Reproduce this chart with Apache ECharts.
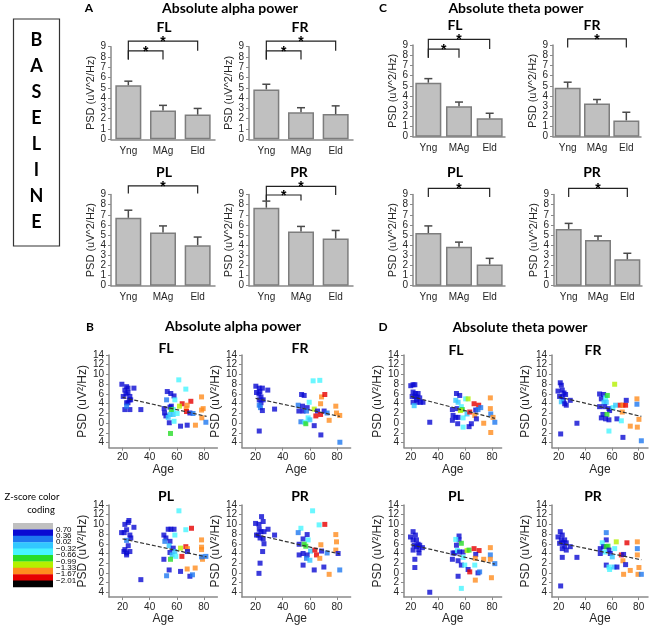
<!DOCTYPE html>
<html><head><meta charset="utf-8">
<script src="https://cdn.jsdelivr.net/npm/echarts@6/dist/echarts.min.js"></script>
<style>html,body{margin:0;padding:0;background:#fff}#c{width:654px;height:626px}</style>
</head><body><div id="c"></div>
<script>
// ---------- DATA ----------
const groups = ['Yng', 'MAg', 'Eld'];
const barTicksMax = 9;
const psdTicks = [-4, -2, 0, 2, 4, 6, 8, 10, 12, 14];
const ageTicks = [20, 40, 60, 80];

// A: absolute alpha power (mean, SE), significant pairs
const alphaFL_mean = [5.25, 2.8, 2.4],  alphaFL_se = [0.4, 0.5, 0.6],   alphaFL_sig = [[0, 1], [0, 2]];
const alphaFR_mean = [4.85, 2.62, 2.45], alphaFR_se = [0.5, 0.45, 0.8], alphaFR_sig = [[0, 1], [0, 2]];
const alphaPL_mean = [6.7, 5.25, 4.0],  alphaPL_se = [0.75, 0.65, 0.8], alphaPL_sig = [[0, 2]];
const alphaPR_mean = [7.7, 5.35, 4.65], alphaPR_se = [0.65, 0.5, 0.8],  alphaPR_sig = [[0, 1], [0, 2]];
// C: absolute theta power
const thetaFL_mean = [5.3, 3.0, 1.8],   thetaFL_se = [0.4, 0.4, 0.5],   thetaFL_sig = [[0, 1], [0, 2]];
const thetaFR_mean = [4.8, 3.25, 1.6],  thetaFR_se = [0.55, 0.4, 0.8],  thetaFR_sig = [[0, 2]];
const thetaPL_mean = [5.2, 3.85, 2.1],  thetaPL_se = [0.7, 0.45, 0.6],  thetaPL_sig = [[0, 2]];
const thetaPR_mean = [5.6, 4.5, 2.6],   thetaPR_se = [0.55, 0.4, 0.6],  thetaPR_sig = [[0, 2]];

// B / D scatter: [age, PSD, z-score colour class]
const alphaFL_pts = [[19.5,8.0,1],[23,7.5,1],[24,7.2,1],[21.7,6.8,1],[24,6.3,1],[22.5,6.0,1],[25.4,5.5,1],[26,4.8,1],[23,4.2,1],[24,4.2,1],[21.7,2.8,1],[25.4,2.8,1],[28.4,7.2,1],[33.5,2.8,1],[20.5,5.5,1],[25,4.8,1],[23,3.5,2],
[53,6.5,1],[55.6,6.1,1],[58,5.6,1],[52.5,4.8,2],[58.6,4.8,4],[50.7,3.0,1],[51,2.1,1],[52,1.5,1],[55,3.3,1],[56,3.5,1],[57.4,2.8,4],[56,2.8,5],[55,1.8,3],[57.4,1.8,3],[53.7,1.2,3],[54.5,0.1,1],[58,0.4,4],[55.4,-2.1,5],[61.5,8.9,4],[66.7,7.0,4],[60.3,2.0,4],[64,4.0,8],[62,3.5,6],[67,3.0,7],[70.4,4.5,8],[67.7,3.7,7],[67.2,2.4,8],[69.7,2.1,1],[72,2.0,2],[62.8,-0.6,1],[67.7,-0.4,1],[73.8,-0.4,7],[78.3,5.4,7],[79.5,3.0,7],[78.3,2.7,7],[78.5,1.1,7],[81.5,0.2,2]];
const alphaFR_pts = [[20.2,7.6,1],[22.7,7.2,1],[23.2,6.5,1],[25,7.2,1],[22.5,6.0,1],[24,5.4,1],[22.7,4.8,1],[25.6,4.8,1],[24,4.2,1],[22.7,3.7,2],[23.6,3.2,2],[25,2.6,1],[29,6.8,1],[34,2.9,1],[22.7,-1.6,1],[20.7,6.3,1],
[62.4,8.7,4],[67.3,8.8,4],[53.9,5.9,1],[55.8,5.7,1],[68.6,5.4,7],[71,5.9,8],[59.5,4.3,4],[67.9,4.0,7],[51.4,3.7,2],[54.6,3.5,1],[58,3.2,1],[63.2,2.9,6],[51.9,2.5,1],[55,2.5,1],[57.5,2.5,2],[65.6,2.5,1],[70.5,2.5,1],[72.7,2.1,2],[64.4,1.5,8],[67.9,1.8,8],[79.1,3.5,7],[79.6,2.1,7],[74.2,0.6,7],[82,1.6,7],[53.4,0.3,2],[56.3,0.2,4],[58.7,1.1,4],[57,-0.1,5],[63.2,-0.5,1],[68.1,-2.4,1],[82.1,-3.9,2],[60,0.7,3]];
const alphaPL_pts = [[19.3,8.3,1],[21.2,8.3,1],[21.7,10.0,1],[24.2,10.4,1],[24.7,10.8,1],[23,8.9,1],[25.4,7.8,1],[26.1,7.2,1],[28.4,9.4,1],[23,6.7,2],[24.2,5.6,1],[21.7,4.8,1],[21,4.4,1],[23,4.1,1],[23,3.7,1],[25.4,4.4,1],[33.5,-1.4,1],
[50.5,7.8,1],[52,7.2,1],[51.2,6.5,2],[53.7,9.0,1],[55.7,9.0,1],[58,9.0,1],[58.6,7.8,4],[55,6.5,1],[54.4,5.6,3],[55,4.2,1],[57.4,5.1,1],[58.6,4.4,3],[56.6,3.7,3],[59.3,3.4,4],[55.4,2.8,5],[50.5,2.8,1],[54.4,0.6,1],[52.5,-0.6,2],[62.8,0.3,1],[61.6,12.8,4],[66.7,8.9,4],[70.9,9.2,8],[62.8,5.1,6],[66.7,5.4,8],[67.9,5.0,7],[67.9,4.4,1],[63.8,3.4,8],[67.7,0.8,7],[69.7,-0.7,1],[71.6,-0.4,2],[73.6,1.0,7],[78.3,6.8,7],[78.3,5.3,7],[78.3,4.8,7],[79,2.8,7],[78.3,3.3,2],[81.5,3.4,2]];
const alphaPR_pts = [[20,10.2,1],[22.5,10.0,1],[24.4,11.6,1],[25.6,10.6,1],[22.7,9.0,1],[24,8.5,1],[26.2,8.5,1],[29.2,9.0,1],[22,7.8,1],[23.3,7.2,1],[25.6,7.0,1],[26.2,6.0,1],[25.2,4.4,1],[23.3,2.0,1],[22.5,-0.1,1],[34,7.8,1],[20.7,7.8,1],
[62,12.8,4],[66.8,9.9,4],[71,10.0,8],[53.4,9.2,4],[51.4,8.3,2],[58,7.9,1],[55,7.0,1],[58.7,6.8,4],[52.1,5.9,1],[55.8,5.9,5],[57,5.5,5],[68.1,5.8,7],[79.1,7.9,7],[79.6,6.4,7],[60.5,4.5,3],[63.7,4.7,8],[68.6,4.5,1],[72.7,4.1,2],[79.1,4.7,7],[80.8,4.0,1],[55,4.0,1],[52.1,3.7,1],[58,3.7,1],[57.5,3.0,2],[64.9,3.7,8],[67.3,3.0,7],[55,1.6,1],[63.2,0.6,1],[70.3,1.2,1],[74.2,-0.3,7],[82,0.6,2],[60,2.6,3]];
const thetaFL_pts = [[20,7.7,1],[21.7,7.9,1],[23,7.9,1],[21.7,6.4,1],[23.4,6.1,1],[25.4,6.1,1],[21,5.5,1],[23,5.5,1],[24.7,5.4,1],[26.6,5.2,1],[21.7,4.3,1],[24.7,4.3,1],[27.1,4.3,1],[29,4.3,1],[22.5,3.6,3],[34,0.2,1],[24.2,4.8,1],
[53.7,6.1,1],[56.1,5.7,1],[53.2,4.7,3],[54.9,4.3,3],[50.7,2.8,1],[54.2,3.0,1],[51.2,1.6,1],[53.2,1.2,1],[54.9,1.2,1],[50.7,0.6,1],[54.6,-0.1,1],[57.3,3.4,4],[58,2.8,5],[56.6,2.6,6],[58.6,1.1,4],[58.6,-0.8,4],[60.5,5.0,4],[62.3,5.0,6],[61.5,1.9,3],[63,-0.7,1],[63.5,2.3,8],[66.7,4.0,8],[70.1,3.7,8],[67.9,2.7,1],[69.6,2.8,2],[71.6,3.2,2],[67.2,1.6,7],[68.4,0.9,1],[64.7,-0.1,1],[73.8,0.0,7],[78.7,5.2,7],[78.7,3.0,7],[79,1.9,2],[79,-1.9,7],[80.7,1.2,7],[82,0.2,2]];
const thetaFR_pts = [[19.5,6.6,1],[21.2,8.3,1],[22,7.8,1],[22.7,6.8,1],[24,6.2,1],[25.2,5.9,1],[20.7,5.5,1],[22.7,5.4,1],[23.7,4.7,1],[22,4.4,3],[24.5,4.0,1],[25.7,3.7,1],[28.7,4.7,1],[21.5,-2.2,1],[33.7,0.0,1],
[50.7,6.0,1],[52,5.0,1],[53.7,5.9,1],[55.2,5.2,4],[56.5,5.7,5],[54,4.3,3],[55.7,4.3,3],[50.7,3.4,1],[54.5,3.4,1],[57.7,3.0,1],[58.2,2.6,1],[53.2,1.8,1],[56.2,1.8,5],[52,1.1,1],[55.2,0.9,1],[57.7,0.7,1],[57.7,-1.6,4],[60.7,3.2,4],[62.7,3.7,3],[62,8.0,6],[63.7,0.9,1],[66.2,3.7,8],[68.2,3.7,7],[67.7,2.3,7],[67,0.5,4],[70.2,3.7,8],[70.7,4.7,1],[68.2,-2.9,1],[73.7,-0.6,7],[78.7,5.0,7],[78.7,3.9,2],[79,-0.8,7],[80.2,0.8,7],[82,-3.6,2]];
const thetaPL_pts = [[19.8,7.4,1],[21.7,8.5,1],[23.4,7.8,1],[21.7,6.8,1],[24.2,6.8,1],[22.5,5.7,1],[25.4,5.9,1],[26.6,5.7,1],[24.2,5.4,1],[21.7,4.7,1],[25.9,4.8,1],[26.1,4.1,1],[28.6,5.2,1],[23,2.8,1],[23,1.1,1],[34,-4.0,1],
[55.6,7.6,1],[55.6,6.8,1],[53.2,6.9,4],[53.7,5.7,1],[57.3,6.1,5],[51.2,4.1,1],[52.4,4.1,1],[54.4,4.6,4],[56,4.3,1],[58.6,4.3,1],[61.5,4.6,6],[63,4.7,5],[58.6,3.2,4],[50.7,2.8,1],[54.9,2.5,1],[57.3,1.6,1],[59.8,1.6,4],[54.9,-0.7,1],[57.3,-3.2,4],[62.3,0.7,1],[63.5,0.2,8],[66.7,5.0,8],[70.4,4.6,8],[67.9,3.8,1],[67.6,3.0,7],[67.2,1.6,4],[69.6,0.0,1],[70.8,0.2,2],[67.6,-1.5,7],[73.8,2.8,7],[78.7,5.2,7],[78.7,3.7,2],[78.7,2.8,7],[79.5,-1.0,7],[82,1.9,2]];
const thetaPR_pts = [[19.5,7.4,1],[21.2,8.5,1],[22.7,7.8,1],[22,6.8,1],[24.5,6.8,1],[20.7,6.1,1],[23.2,6.2,1],[25.7,6.2,1],[24.5,5.5,1],[22.7,5.0,1],[25.7,4.7,1],[28.7,5.4,1],[22.7,3.2,1],[21.5,-2.7,1],[33.7,3.2,1],
[55.7,8.3,2],[55.7,6.8,1],[52.7,6.2,4],[51.2,5.0,1],[53.7,5.4,1],[55.7,5.4,5],[57,5.5,5],[57.7,4.7,1],[54.5,4.3,4],[51.2,4.0,1],[58.7,4.0,1],[60.2,3.3,3],[63.2,6.4,6],[62,5.0,4],[55.7,1.6,1],[57.7,1.2,4],[58.2,0.7,4],[61.5,1.2,3],[63.7,1.2,1],[71.2,6.2,8],[67,3.7,8],[68.7,3.8,1],[68.2,2.5,7],[70.2,1.7,1],[68.7,-0.3,7],[73.7,0.5,7],[79,6.4,7],[79,3.7,7],[79,5.0,2],[80.2,1.1,7],[79.5,-0.3,7],[82,-0.3,2]];

// regression lines: [age, PSD] end points
const alphaFL_trend = [[20, 5.3], [82, 1.4]];
const alphaFR_trend = [[20, 5.1], [82, 1.4]];
const alphaPL_trend = [[20, 7.0], [82, 3.3]];
const alphaPR_trend = [[20, 7.9], [82, 3.9]];
const thetaFL_trend = [[20, 5.5], [82, 1.0]];
const thetaFR_trend = [[20, 5.4], [82, 1.4]];
const thetaPL_trend = [[20, 5.8], [82, 1.8]];
const thetaPR_trend = [[20, 6.2], [82, 2.7]];

// z-score colour coding legend
const zLabels = ['0.70', '0.36', '0.02', '\u22120.32', '\u22120.66', '\u22120.99', '\u22121.33', '\u22121.67', '\u22122.01'];
const zColors = ['#c0c0c0', '#0a0ad2', '#1e78f0', '#32c8ff', '#46f5ff', '#28dc28', '#b4f000', '#ff8c1e', '#e60000', '#000000'];
const baselineText = 'BASELINE';

// ---------- BUILD ----------
const TF = 'Liberation Sans, Arial, sans-serif';
const TXT = '#262626';
const AX = '#8a8a8a';
const grids = [], xAxes = [], yAxes = [], series = [];

// br: bracket layout {inner, outer, leg, legOuter} (heights on the value axis)
function barPanel(L, T, W, H, mean, se, sig, bw, br) {
  br = Object.assign({ inner: 8.6, outer: 9.55, leg: 7.75, legOuter: 8.6, single: 9.6, singleLeg: 8.75 }, br || {});
  const gi = grids.length, xi = xAxes.length, yi = yAxes.length;
  grids.push({ left: L, top: T, width: W, height: H });
  xAxes.push({ type: 'category', gridIndex: gi, data: groups,
    axisLine: { lineStyle: { color: AX, width: 1.5 } }, axisTick: { show: false },
    axisLabel: { fontSize: 10, color: TXT, fontFamily: TF, margin: 7 } });
  yAxes.push({ type: 'value', gridIndex: gi, min: 0, max: barTicksMax, interval: 1,
    name: 'PSD (uV^2/Hz)', nameLocation: 'middle', nameGap: 14,
    nameTextStyle: { fontSize: 11, color: TXT, fontFamily: TF },
    axisLine: { show: true, lineStyle: { color: AX, width: 1.5 } },
    axisTick: { show: true, length: 3, lineStyle: { color: AX } },
    axisLabel: { fontSize: 10, color: TXT, fontFamily: TF, margin: 5, showMinLabel: true, showMaxLabel: true },
    splitLine: { show: false } });
  series.push({ type: 'bar', xAxisIndex: xi, yAxisIndex: yi, data: mean, barWidth: bw, silent: true,
    itemStyle: { color: '#c0c0c0', borderColor: '#7d7d7d', borderWidth: 1.5 } });
  series.push({ type: 'custom', xAxisIndex: xi, yAxisIndex: yi, silent: true, z: 3,
    data: mean.map((m, k) => [k, m, m + se[k]]), encode: { x: 0, y: 1 },
    renderItem: (p, api) => {
      const a = api.coord([api.value(0), api.value(1)]);
      const t = api.coord([api.value(0), api.value(2)]);
      return { type: 'group', children: [
        { type: 'line', shape: { x1: a[0], y1: a[1], x2: t[0], y2: t[1] }, style: { stroke: '#4a4a4a', lineWidth: 1.5 } },
        { type: 'line', shape: { x1: t[0] - 4, y1: t[1], x2: t[0] + 4, y2: t[1] }, style: { stroke: '#4a4a4a', lineWidth: 1.5 } }
      ] };
    } });
  const two = sig.length > 1;
  const bdata = sig.map(([a, b]) => {
    if (!two) return [a, b, br.single, br.singleLeg, br.singleLeg];
    return (b - a === 1) ? [a, b, br.inner, br.leg, br.leg] : [a, b, br.outer, br.leg, br.legOuter];
  });
  series.push({ type: 'custom', xAxisIndex: xi, yAxisIndex: yi, silent: true, clip: false, z: 4,
    data: bdata, encode: { x: 0, y: 2 },
    renderItem: (p, api) => {
      const a = api.value(0), b = api.value(1), lv = api.value(2), l1 = api.value(3), l2 = api.value(4);
      const p1 = api.coord([a, l1]), p2 = api.coord([a, lv]), p3 = api.coord([b, lv]), p4 = api.coord([b, l2]);
      return { type: 'group', children: [
        { type: 'polyline', shape: { points: [p1, p2, p3, p4] }, style: { stroke: '#222', lineWidth: 1.2, fill: null } },
        { type: 'text', x: (p2[0] + p3[0]) / 2, y: p2[1] + 1,
          style: { text: '*', font: 'bold 14px Liberation Sans', fill: '#000', textAlign: 'center', textVerticalAlign: 'middle' } }
      ] };
    } });
}

function scatterPanel(L, T, W, xMin, xMax, pts, trend) {
  const gi = grids.length, xi = xAxes.length, yi = yAxes.length;
  grids.push({ left: L, top: T, width: W, height: 92.6 });
  xAxes.push({ type: 'value', gridIndex: gi, min: xMin, max: xMax,
    name: 'Age', nameLocation: 'middle', nameGap: 15,
    nameTextStyle: { fontSize: 12, color: TXT, fontFamily: TF },
    axisLine: { show: true, onZero: false, lineStyle: { color: AX, width: 1.5 } },
    axisTick: { show: true, length: 3, customValues: ageTicks, lineStyle: { color: AX } },
    axisLabel: { customValues: ageTicks, fontSize: 10, color: TXT, fontFamily: TF, margin: 5,
      showMinLabel: true, showMaxLabel: true },
    splitLine: { show: false } });
  // tick labels are split over two coincident axes so that no label is auto-hidden
  const evenTicks = psdTicks.filter((v, k) => k % 2 === 0);
  const oddTicks = psdTicks.filter((v, k) => k % 2 === 1);
  [evenTicks, oddTicks].forEach((tv, n) => {
    yAxes.push({ type: 'value', gridIndex: gi, min: -5, max: 14, position: 'left', offset: 0,
      name: n === 0 ? 'PSD (uV\u00B2/Hz)' : '', nameLocation: 'middle', nameGap: 15,
      nameTextStyle: { fontSize: 12, color: TXT, fontFamily: TF },
      axisLine: { show: n === 0, onZero: false, lineStyle: { color: AX, width: 1.5 } },
      axisTick: { show: true, length: 3, customValues: tv, lineStyle: { color: AX } },
      axisLabel: { customValues: tv, fontSize: 10, color: TXT, fontFamily: TF, margin: 5,
        showMinLabel: true, showMaxLabel: true,
        formatter: v => String(Math.abs(v)) },
      splitLine: { show: false } });
  });
  series.push({ type: 'scatter', xAxisIndex: xi, yAxisIndex: yi, symbol: 'rect', symbolSize: 5, silent: true,
    data: pts.map(p => ({ value: [p[0], p[1]], itemStyle: { color: zColors[p[2]] } })) });
  series.push({ type: 'line', xAxisIndex: xi, yAxisIndex: yi, data: trend, symbol: 'none', silent: true, z: 3,
    lineStyle: { type: [4, 2], color: '#333', width: 1.2 } });
}

// Panel A
barPanel(111, 46.7, 104, 92.6, alphaFL_mean, alphaFL_se, alphaFL_sig, 26);
barPanel(249, 46.7, 104, 92.6, alphaFR_mean, alphaFR_se, alphaFR_sig, 26);
barPanel(111, 194.5, 104, 91.2, alphaPL_mean, alphaPL_se, alphaPL_sig, 26, { single: 9.85, singleLeg: 9.1 });
barPanel(249, 194.5, 104, 91.2, alphaPR_mean, alphaPR_se, alphaPR_sig, 26, { inner: 8.95, outer: 9.8, leg: 8.4, legOuter: 8.95 });
// Panel C
barPanel(413, 45, 92, 91.7, thetaFL_mean, thetaFL_se, thetaFL_sig, 26);
barPanel(553, 45, 88, 91.7, thetaFR_mean, thetaFR_se, thetaFR_sig, 26);
barPanel(413, 194.5, 92, 91.2, thetaPL_mean, thetaPL_se, thetaPL_sig, 26);
barPanel(554, 194.5, 88, 91.2, thetaPR_mean, thetaPR_se, thetaPR_sig, 26);
// Panel B
scatterPanel(109, 355, 108.4, 10, 90, alphaFL_pts, alphaFL_trend);
scatterPanel(242, 355, 108.6, 10, 90, alphaFR_pts, alphaFR_trend);
scatterPanel(109, 505, 108.4, 10, 90, alphaPL_pts, alphaPL_trend);
scatterPanel(242, 505, 108.6, 10, 90, alphaPR_pts, alphaPR_trend);
// Panel D
scatterPanel(404, 355, 97.6, 15, 87, thetaFL_pts, thetaFL_trend);
scatterPanel(552, 355, 96, 15, 87, thetaFR_pts, thetaFR_trend);
scatterPanel(404, 505, 97.6, 15, 87, thetaPL_pts, thetaPL_trend);
scatterPanel(552, 505, 96, 15, 87, thetaPR_pts, thetaPR_trend);

// ---------- TEXT / DECORATION ----------
const HF = 'Lato, "Open Sans", sans-serif';
function txt(x, y, text, font, align) {
  return { type: 'text', x: x, y: y, silent: true,
    style: { text: text, font: font, fill: '#000', textAlign: align || 'center', textVerticalAlign: 'middle' } };
}
const g = [];
g.push(txt(89, 8, 'A', 'bold 12px ' + HF));
g.push(txt(230, 8, 'Absolute alpha power', 'bold 14px ' + HF));
g.push(txt(164, 27, 'FL', 'bold 14px ' + HF));
g.push(txt(300, 27, 'FR', 'bold 14px ' + HF));
g.push(txt(164, 172, 'PL', 'bold 14px ' + HF));
g.push(txt(299, 172, 'PR', 'bold 14px ' + HF));
g.push(txt(383, 8, 'C', 'bold 12px ' + HF));
g.push(txt(516, 8, 'Absolute theta power', 'bold 14px ' + HF));
g.push(txt(455, 25, 'FL', 'bold 14px ' + HF));
g.push(txt(592, 25, 'FR', 'bold 14px ' + HF));
g.push(txt(455, 172, 'PL', 'bold 14px ' + HF));
g.push(txt(592, 172, 'PR', 'bold 14px ' + HF));
g.push(txt(90, 327, 'B', 'bold 12px ' + HF));
g.push(txt(233, 326, 'Absolute alpha power', 'bold 14px ' + HF));
g.push(txt(166, 348, 'FL', 'bold 14px ' + HF));
g.push(txt(300, 348, 'FR', 'bold 14px ' + HF));
g.push(txt(166, 496, 'PL', 'bold 14px ' + HF));
g.push(txt(300, 496, 'PR', 'bold 14px ' + HF));
g.push(txt(383, 327, 'D', 'bold 12px ' + HF));
g.push(txt(520, 327, 'Absolute theta power', 'bold 14px ' + HF));
g.push(txt(456, 350, 'FL', 'bold 14px ' + HF));
g.push(txt(593, 350, 'FR', 'bold 14px ' + HF));
g.push(txt(456, 496, 'PL', 'bold 14px ' + HF));
g.push(txt(593, 496, 'PR', 'bold 14px ' + HF));
// BASELINE box
g.push({ type: 'rect', silent: true, shape: { x: 13.5, y: 19, width: 46, height: 227 },
  style: { fill: null, stroke: '#333', lineWidth: 1.2 } });
baselineText.split('').forEach((ch, k) => g.push(txt(36.5, 40 + k * 26, ch, 'bold 18px ' + HF)));
// Z-score legend
g.push(txt(32, 497, 'Z-score color', '9.5px ' + HF));
g.push(txt(41, 510, 'coding', '9.5px ' + HF));
const bandTop = 523, bandH = 6.4;
zColors.forEach((c, k) => g.push({ type: 'rect', silent: true,
  shape: { x: 13, y: bandTop + k * bandH, width: 40, height: bandH + 0.3 }, style: { fill: c } }));
zLabels.forEach((t, k) => g.push(txt(56, bandTop + (k + 1) * bandH, t, '8px ' + TF, 'left')));

const chart = echarts.init(document.getElementById('c'), null, { renderer: 'canvas' });
chart.setOption({
  animation: false,
  backgroundColor: '#fff',
  grid: grids, xAxis: xAxes, yAxis: yAxes, series: series,
  graphic: { elements: g }
});
</script></body></html>
